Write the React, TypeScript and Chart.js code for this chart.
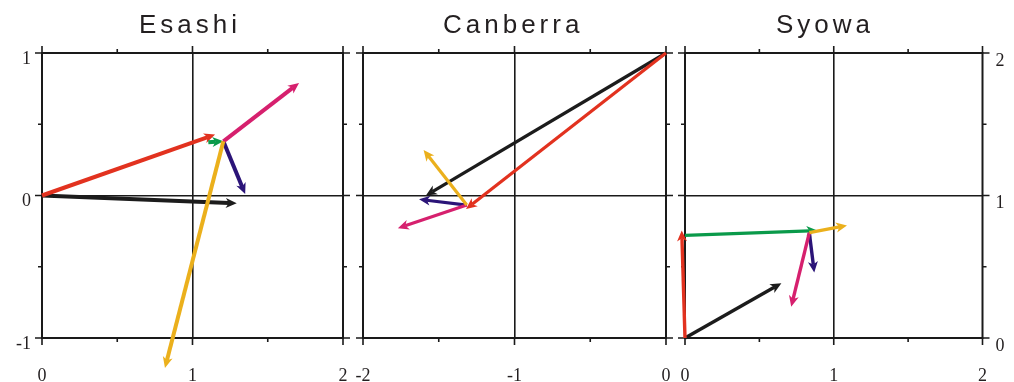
import React, { useEffect, useRef } from 'react';
import { Chart, registerables } from 'chart.js';

Chart.register(...registerables);

// ---------- data ----------
const stationNames = ['Esashi', 'Canberra', 'Syowa'];

const BLACK = '#1c1c1c';
const RED = '#e2321f';
const GREEN = '#0a9a4a';
const MAGENTA = '#d6206e';
const INDIGO = '#2b1478';
const ORANGE = '#ebb01c';

// Esashi vectors (start -> end)
const esashiColors = [BLACK, RED, GREEN, INDIGO, MAGENTA, ORANGE];
const esashiX0 = [0, 0, 1.105, 1.205, 1.205, 1.205];
const esashiY0 = [0, 0, 0.374, 0.38, 0.38, 0.38];
const esashiX1 = [1.294, 1.15, 1.205, 1.35, 1.708, 0.817];
const esashiY1 = [-0.055, 0.428, 0.381, 0.01, 0.79, -1.21];

// Canberra vectors
const canberraColors = [BLACK, RED, INDIGO, MAGENTA, ORANGE];
const canberraX0 = [0, 0, -1.315, -1.315, -1.315];
const canberraY0 = [1, 1, -0.067, -0.067, -0.067];
const canberraX1 = [-1.585, -1.32, -1.63, -1.77, -1.6];
const canberraY1 = [0.0, -0.095, -0.027, -0.23, 0.32];

// Syowa vectors
const syowaColors = [BLACK, RED, GREEN, INDIGO, MAGENTA, ORANGE];
const syowaX0 = [0, 0, 0, 0.836, 0.836, 0.836];
const syowaY0 = [0, 0, 0.72, 0.739, 0.739, 0.739];
const syowaX1 = [0.648, -0.022, 0.89, 0.869, 0.714, 1.089];
const syowaY1 = [0.384, 0.755, 0.754, 0.46, 0.22, 0.79];

// axis ranges
const esashiXRange = [0, 2];
const esashiYRange = [-1, 1];
const canberraXRange = [-2, 0];
const canberraYRange = [-1, 1];
const syowaXRange = [0, 2];
const syowaYRange = [0, 2];

// ---------- layout ----------
const W = 1014;
const H = 382;
const X_AXIS_H = 44;

type Panel = {
  name: string;
  colors: string[];
  x0: number[];
  y0: number[];
  x1: number[];
  y1: number[];
  xr: number[];
  yr: number[];
  area: { left: number; top: number; right: number; bottom: number };
  yAxis: 'left' | 'right' | 'none';
  lw: number;
  titleLeft: number;
};

const panels: Panel[] = [
  {
    name: stationNames[0], colors: esashiColors, x0: esashiX0, y0: esashiY0, x1: esashiX1, y1: esashiY1,
    xr: esashiXRange, yr: esashiYRange,
    area: { left: 42, top: 53, right: 343, bottom: 338 }, yAxis: 'left', lw: 4, titleLeft: 139,
  },
  {
    name: stationNames[1], colors: canberraColors, x0: canberraX0, y0: canberraY0, x1: canberraX1, y1: canberraY1,
    xr: canberraXRange, yr: canberraYRange,
    area: { left: 363, top: 53, right: 666, bottom: 338 }, yAxis: 'none', lw: 3.2, titleLeft: 443,
  },
  {
    name: stationNames[2], colors: syowaColors, x0: syowaX0, y0: syowaY0, x1: syowaX1, y1: syowaY1,
    xr: syowaXRange, yr: syowaYRange,
    area: { left: 685, top: 53, right: 988, bottom: 338 }, yAxis: 'right', lw: 3.4, titleLeft: 776,
  },
];

const frameColor = '#1a1a1a';

const framePlugin = {
  id: 'frameTicks',
  beforeDatasetsDraw(chart: any) {
    const { ctx, chartArea } = chart;
    const { left, right, top, bottom } = chartArea;
    const xs = chart.scales.x;
    const ys = chart.scales.y;
    ctx.save();
    ctx.strokeStyle = frameColor;
    ctx.lineWidth = 2;
    ctx.strokeRect(left, top, right - left, bottom - top);
    ctx.lineWidth = 1.6;
    ctx.beginPath();
    for (let v = xs.min; v <= xs.max + 1e-9; v += 0.5) {
      const p = xs.getPixelForValue(v);
      const len = Math.abs(v - Math.round(v)) < 1e-6 ? 7 : 4;
      ctx.moveTo(p, top);
      ctx.lineTo(p, top - len);
      ctx.moveTo(p, bottom);
      ctx.lineTo(p, bottom + len);
    }
    for (let v = ys.min; v <= ys.max + 1e-9; v += 0.5) {
      const p = ys.getPixelForValue(v);
      const len = Math.abs(v - Math.round(v)) < 1e-6 ? 7 : 4;
      ctx.moveTo(left, p);
      ctx.lineTo(left - len, p);
      ctx.moveTo(right, p);
      ctx.lineTo(right + len, p);
    }
    ctx.stroke();
    ctx.restore();
  },
};

const arrowPlugin = {
  id: 'arrows',
  afterDatasetsDraw(chart: any) {
    const ctx = chart.ctx;
    chart.data.datasets.forEach((ds: any, i: number) => {
      const meta = chart.getDatasetMeta(i);
      const a = meta.data[0];
      const b = meta.data[1];
      if (!a || !b) return;
      const dx = b.x - a.x;
      const dy = b.y - a.y;
      const len = Math.hypot(dx, dy);
      if (len < 0.5) return;
      const ux = dx / len;
      const uy = dy / len;
      const px = -uy;
      const py = ux;
      const L = 11;
      const Wd = 5;
      ctx.save();
      ctx.strokeStyle = ds.borderColor;
      ctx.fillStyle = ds.borderColor;
      ctx.lineWidth = ds.borderWidth;
      ctx.lineCap = 'butt';
      ctx.beginPath();
      ctx.moveTo(a.x, a.y);
      const sl = Math.max(0, len - L * 0.7);
      ctx.lineTo(a.x + ux * sl, a.y + uy * sl);
      ctx.stroke();
      ctx.beginPath();
      ctx.moveTo(b.x, b.y);
      ctx.lineTo(b.x - ux * L + px * Wd, b.y - uy * L + py * Wd);
      ctx.lineTo(b.x - ux * L * 0.72, b.y - uy * L * 0.72);
      ctx.lineTo(b.x - ux * L - px * Wd, b.y - uy * L - py * Wd);
      ctx.closePath();
      ctx.fill();
      ctx.restore();
    });
  },
};

function buildConfig(p: Panel): any {
  const yW = p.yAxis === 'left' ? 30 : p.yAxis === 'right' ? W - p.area.right : 0;
  const padLeft = p.yAxis === 'left' ? p.area.left - yW : p.area.left;
  const padRight = p.yAxis === 'right' ? W - p.area.right - yW : W - p.area.right;
  const xMid = (p.xr[0] + p.xr[1]) / 2;
  const yMid = (p.yr[0] + p.yr[1]) / 2;
  const tickFont = { family: 'Liberation Serif', size: 18 };
  return {
    type: 'scatter',
    data: {
      datasets: p.colors.map((c, i) => ({
        label: 'v' + i,
        data: [
          { x: p.x0[i], y: p.y0[i] },
          { x: p.x1[i], y: p.y1[i] },
        ],
        showLine: false,
        pointRadius: 0,
        borderColor: c,
        backgroundColor: c,
        borderWidth: p.lw,
        clip: false,
      })),
    },
    options: {
      animation: false,
      responsive: false,
      maintainAspectRatio: false,
      events: [],
      layout: {
        padding: {
          left: padLeft,
          right: padRight,
          top: p.area.top,
          bottom: H - p.area.bottom - X_AXIS_H,
        },
      },
      plugins: {
        legend: { display: false },
        tooltip: { enabled: false },
        title: { display: false },
      },
      scales: {
        x: {
          type: 'linear',
          position: 'bottom',
          min: p.xr[0],
          max: p.xr[1],
          afterFit: (s: any) => {
            s.height = X_AXIS_H;
          },
          border: { display: false },
          grid: {
            drawTicks: false,
            lineWidth: 1.6,
            color: (ctx: any) =>
              ctx.tick && Math.abs(ctx.tick.value - xMid) < 1e-6 ? frameColor : 'rgba(0,0,0,0)',
          },
          ticks: {
            stepSize: 1,
            padding: 27,
            color: '#231f20',
            font: tickFont,
            maxRotation: 0,
          },
        },
        y: {
          type: 'linear',
          position: p.yAxis === 'right' ? 'right' : 'left',
          min: p.yr[0],
          max: p.yr[1],
          afterFit: (s: any) => {
            s.width = yW;
          },
          border: { display: false },
          grid: {
            drawTicks: false,
            lineWidth: 1.6,
            color: (ctx: any) =>
              ctx.tick && Math.abs(ctx.tick.value - yMid) < 1e-6 ? frameColor : 'rgba(0,0,0,0)',
          },
          ticks: {
            display: p.yAxis !== 'none',
            stepSize: 1,
            padding: p.yAxis === 'right' ? 13 : 11,
            labelOffset: p.yAxis === 'right' ? 8 : 6,
            color: '#231f20',
            font: tickFont,
          },
        },
      },
    },
    plugins: [framePlugin, arrowPlugin],
  };
}

export default function App() {
  const refs = [useRef<HTMLCanvasElement>(null), useRef<HTMLCanvasElement>(null), useRef<HTMLCanvasElement>(null)];

  useEffect(() => {
    const charts: Chart[] = [];
    panels.forEach((p, i) => {
      const c = refs[i].current;
      if (c) charts.push(new Chart(c, buildConfig(p)));
    });
    return () => {
      charts.forEach((ch) => ch.destroy());
    };
  }, []);

  return (
    <div
      style={{
        position: 'fixed',
        left: 0,
        top: 0,
        width: W,
        height: H,
        overflow: 'hidden',
        background: '#ffffff',
      }}
    >
      {panels.map((p, i) => (
        <canvas
          key={'c' + i}
          ref={refs[i]}
          width={W}
          height={H}
          style={{ position: 'absolute', left: 0, top: 0, width: W, height: H }}
        />
      ))}
      {panels.map((p, i) => (
        <div
          key={'t' + i}
          style={{
            position: 'absolute',
            left: p.titleLeft,
            top: 11,
            fontFamily: '"Liberation Sans", Arial, sans-serif',
            fontSize: 26,
            lineHeight: '26px',
            letterSpacing: 4,
            color: '#231f20',
            whiteSpace: 'nowrap',
          }}
        >
          {p.name}
        </div>
      ))}
    </div>
  );
}
